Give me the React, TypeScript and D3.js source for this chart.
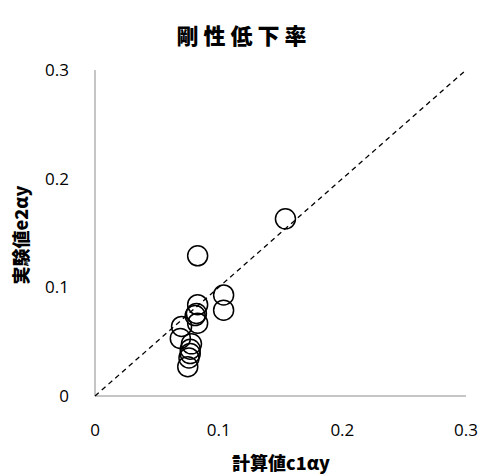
import React, { useRef, useEffect } from "react";
import * as d3 from "d3";

// calculated c1αy vs measured e2αy
const calcValues = [0.154, 0.083, 0.104, 0.104, 0.083, 0.082, 0.081, 0.083, 0.070, 0.069, 0.078, 0.077, 0.077, 0.076, 0.075];
const expValues = [0.163, 0.129, 0.093, 0.079, 0.084, 0.076, 0.074, 0.067, 0.064, 0.053, 0.048, 0.043, 0.039, 0.035, 0.027];
const xTicks = [0, 0.1, 0.2, 0.3];
const yTicks = [0, 0.1, 0.2, 0.3];

const App = () => {
  const ref = useRef<SVGSVGElement>(null);

  useEffect(() => {
    const svg = d3.select(ref.current);
    svg.selectAll("*").remove();

    const left = 95, right = 466, top = 70, bottom = 396;
    const x = d3.scaleLinear().domain([0, 0.3]).range([left, right]);
    const y = d3.scaleLinear().domain([0, 0.3]).range([bottom, top]);
    const font = "'Open Sans', 'Noto Sans', sans-serif";
    const cjk = "'Noto Sans CJK JP', sans-serif";

    svg.append("text")
      .attr("x", 244).attr("y", 44)
      .attr("text-anchor", "middle")
      .attr("font-family", cjk).attr("font-weight", 900)
      .attr("font-size", 22).attr("letter-spacing", 5)
      .text("剛性低下率");

    // axes lines
    svg.append("line")
      .attr("x1", left).attr("x2", left).attr("y1", top).attr("y2", bottom)
      .attr("stroke", "#8c8c8c").attr("stroke-width", 1);
    svg.append("line")
      .attr("x1", left).attr("x2", right).attr("y1", bottom).attr("y2", bottom)
      .attr("stroke", "#8c8c8c").attr("stroke-width", 1);

    svg.selectAll(".xt").data(xTicks).enter().append("text")
      .attr("x", (d) => x(d)).attr("y", bottom + 40)
      .attr("text-anchor", "middle")
      .attr("font-family", font).attr("font-size", 17)
      .text((d) => (d === 0 ? "0" : d.toFixed(1)));

    svg.selectAll(".yt").data(yTicks).enter().append("text")
      .attr("x", left - 26).attr("y", (d) => y(d) + 6)
      .attr("text-anchor", "end")
      .attr("font-family", font).attr("font-size", 17)
      .text((d) => (d === 0 ? "0" : d.toFixed(1)));

    // 1:1 reference line
    svg.append("line")
      .attr("x1", x(0)).attr("y1", y(0)).attr("x2", x(0.3)).attr("y2", y(0.3))
      .attr("stroke", "#000").attr("stroke-width", 1.3)
      .attr("stroke-dasharray", "5,4");

    svg.selectAll("circle")
      .data(calcValues.map((v, i) => [v, expValues[i]]))
      .enter().append("circle")
      .attr("cx", (d) => x(d[0])).attr("cy", (d) => y(d[1]))
      .attr("r", 10)
      .attr("fill", "none").attr("stroke", "#000").attr("stroke-width", 1.5);

    svg.append("text")
      .attr("x", 281).attr("y", 470)
      .attr("text-anchor", "middle")
      .attr("font-family", cjk).attr("font-weight", 900).attr("font-size", 18)
      .text("計算値c1αy");

    svg.append("text")
      .attr("transform", `translate(28,${(top + bottom) / 2 + 2}) rotate(-90)`)
      .attr("text-anchor", "middle")
      .attr("font-family", cjk).attr("font-weight", 900).attr("font-size", 18)
      .text("実験値e2αy");
  }, []);

  return <svg ref={ref} width={485} height={476} style={{ position: "absolute", left: 0, top: 0 }} />;
};

export default App;
